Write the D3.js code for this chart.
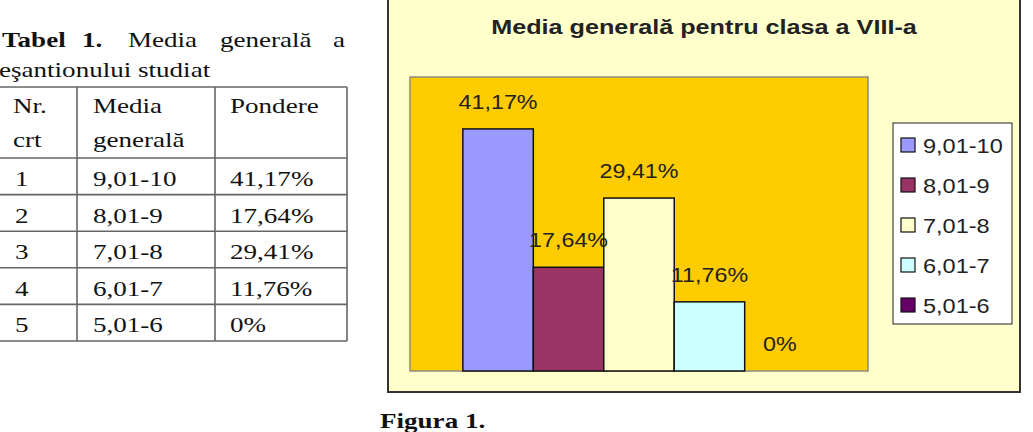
<!DOCTYPE html>
<html>
<head>
<meta charset="utf-8">
<script src="https://cdn.jsdelivr.net/npm/d3@7"></script>
<style>
  body { margin: 0; background: #fff; }
  .serif { font-family: "Liberation Serif", "Times New Roman", serif; font-size: 22px; fill: #111; }
  .sans { font-family: "Liberation Sans", Arial, sans-serif; font-size: 21px; fill: #222; }
</style>
</head>
<body>
<script>
// table data
const tableHeader = [["Nr.", "crt"], ["Media", "generală"], ["Pondere"]];
const rowNr = ["1", "2", "3", "4", "5"];
const ranges = ["9,01-10", "8,01-9", "7,01-8", "6,01-7", "5,01-6"];
const shares = [41.17, 17.64, 29.41, 11.76, 0];
const seriesColors = ["#9999ff", "#993366", "#ffffcc", "#ccffff", "#660066"];
const chartTitle = "Media generală pentru clasa a VIII-a";
const yTicks = [0, 50];

const fmt = v => v === 0 ? "0%" : v.toFixed(2).replace(".", ",") + "%";

const svg = d3.select("body").append("svg")
    .attr("width", 1033)
    .attr("height", 432);

// text squeezed wide like the scanned picture
function wideText(parent, x, y, str, cls, sx, anchor) {
    return parent.append("text")
        .attr("class", cls)
        .attr("transform", "translate(" + x + "," + y + ") scale(" + sx + ",1)")
        .attr("text-anchor", anchor || "start")
        .text(str);
}

// ---- left: table caption + table
const left = svg.append("g");
wideText(left, 2, 47, "Tabel", "serif", 1.23).attr("font-weight", "bold");
wideText(left, 82, 47, "1.", "serif", 1.23).attr("font-weight", "bold");
wideText(left, 128, 47, "Media", "serif", 1.23);
wideText(left, 220, 47, "generală", "serif", 1.23);
wideText(left, 345, 47, "a", "serif", 1.23, "end");
wideText(left, -1, 77, "eşantionului studiat", "serif", 1.23);

const colX = [-1, 77, 215, 347];
const rowTop = 87, headBottom = 158, rowH = 36.6;
const rowY = d3.range(rowNr.length + 1).map(i => headBottom + i * rowH);

const grid = left.append("g").attr("stroke", "#666").attr("stroke-width", 1.6);
[rowTop].concat(rowY).forEach(yy => {
    grid.append("line").attr("x1", colX[0]).attr("x2", colX[3]).attr("y1", yy).attr("y2", yy);
});
colX.forEach(xx => {
    grid.append("line").attr("x1", xx).attr("x2", xx).attr("y1", rowTop).attr("y2", rowY[rowY.length - 1]);
});

const cellX = [13, 93, 230];
tableHeader.forEach((lines, c) => {
    lines.forEach((t, k) => wideText(left, cellX[c], 113 + k * 34, t, "serif", 1.23));
});
rowNr.forEach((n, i) => {
    const by = rowY[i] + 28;
    wideText(left, 15, by, n, "serif", 1.23);
    wideText(left, 93, by, ranges[i], "serif", 1.23);
    wideText(left, 230, by, fmt(shares[i]), "serif", 1.23);
});

wideText(svg, 380, 428, "Figura 1.", "serif", 1.23).attr("font-weight", "bold");

// ---- right: the chart
const frame = { x0: 388, x1: 1020, y0: -3, y1: 392 };
svg.append("rect")
    .attr("x", frame.x0).attr("y", frame.y0)
    .attr("width", frame.x1 - frame.x0).attr("height", frame.y1 - frame.y0)
    .attr("fill", "#ffffcc").attr("stroke", "#333").attr("stroke-width", 2);

wideText(svg, (frame.x0 + frame.x1) / 2, 34, chartTitle, "sans", 1.2, "middle")
    .attr("font-weight", "bold");

const plot = { left: 410, right: 868, top: 77, bottom: 371 };
svg.append("rect")
    .attr("x", plot.left).attr("y", plot.top)
    .attr("width", plot.right - plot.left).attr("height", plot.bottom - plot.top)
    .attr("fill", "#ffcc00").attr("stroke", "#8c8c7a").attr("stroke-width", 1.5);

// one category, five series, 150% gap width
const x = d3.scaleBand().domain(ranges).range([plot.left, plot.right])
    .paddingInner(0).paddingOuter(0.75);
const y = d3.scaleLinear().domain(d3.extent(yTicks)).range([plot.bottom, plot.top]);

svg.append("g").selectAll("rect")
    .data(shares)
    .join("rect")
    .attr("x", (d, i) => x(ranges[i]))
    .attr("y", d => y(d))
    .attr("width", x.bandwidth())
    .attr("height", d => y(0) - y(d))
    .attr("fill", (d, i) => seriesColors[i])
    .attr("stroke", "#111")
    .attr("stroke-width", 1.5);

const valG = svg.append("g");
shares.forEach((d, i) => {
    wideText(valG, x(ranges[i]) + x.bandwidth() / 2, y(d) - 20, fmt(d), "sans", 1.11, "middle");
});

// legend
const leg = svg.append("g");
leg.append("rect")
    .attr("x", 893).attr("y", 123).attr("width", 119).attr("height", 201)
    .attr("fill", "#fff").attr("stroke", "#222").attr("stroke-width", 1);
ranges.forEach((r, i) => {
    const cy = 145 + i * 40;
    leg.append("rect")
        .attr("x", 901).attr("y", cy - 7).attr("width", 14).attr("height", 14)
        .attr("fill", seriesColors[i]).attr("stroke", "#111").attr("stroke-width", 1.2);
    wideText(leg, 923, cy + 8, r, "sans", 1.12);
});
</script>
</body>
</html>
